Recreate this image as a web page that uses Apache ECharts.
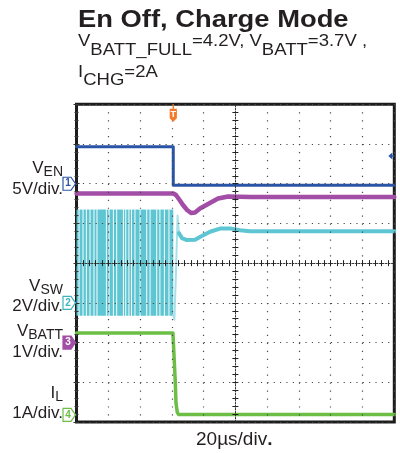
<!DOCTYPE html>
<html>
<head>
<meta charset="utf-8">
<script src="https://cdn.jsdelivr.net/npm/echarts@6/dist/echarts.min.js"></script>
<style>
  html, body { margin: 0; padding: 0; background: #fff; }
  #c { width: 400px; height: 453px; }
</style>
</head>
<body>
<div id="c"></div>
<script>
// ---- scope setup ----
const timeMaxUs = 200;          // 10 div x 20 us
const timeDivUs = 20;
// per-channel vertical scale (units/div) and ground position (div from centre)
const chScale  = [5, 2, 1, 1];
const chGround = [2, -1, -2, -3.82];
const chTag    = ['1', '2', '3', '4'];
const trigTimeUs = 60.9;
const trigLevelV = 3.5;         // CH1 trigger level

// ---- V_EN (V) ----
const enT = [0, 60.9, 60.9, 200];
const enV = [4.66, 4.66, -0.2, -0.2];

// ---- V_SW (V): switching burst band and the quiet gaps inside it (us) ----
const swHigh = 4.7, swLow = -0.65;
const swStart = 0, swStop = 60.9;
const swGaps = [1.6, 4.1, 6.2, 8.5, 11.0, 12.9, 18.8, 20.5, 23.2, 25.3, 29.5,
                31.0, 33.0, 34.6, 36.8, 40.0, 44.2, 46.3, 50.5, 52.5, 55.3, 58.2];
// last ring of the switch node after turn-off
const swRingT = [60.9, 61.6, 62.6, 63.6, 64.5];
const swRingV = [-0.6, -0.85, 1.5, 4.4, 3.5];
// switch node settling after turn-off
const swT = [64.5, 66.4, 69.5, 74.6, 77.7, 84.0, 90.3, 96.6, 102.9, 109.2, 200];
const swV = [3.51, 3.26, 3.16, 3.18, 3.32, 3.58, 3.74, 3.75, 3.66, 3.61, 3.61];

// ---- V_BATT (V) ----
const batT = [0, 61.0, 62.6, 65.1, 67.0, 69.6, 72.1, 74.6, 77.7, 82.8, 89.1, 95.4, 109.2, 200];
const batV = [3.754, 3.754, 3.716, 3.578, 3.464, 3.338, 3.263, 3.276, 3.376, 3.490, 3.628, 3.678, 3.666, 3.666];

// ---- I_L (A) ----
const ilT = [0, 60.7, 61.4, 62.2, 62.6, 63.4, 64.2, 200];
const ilA = [2.06, 2.06, 1.46, 0.80, 0.30, 0.07, 0.01, 0.01];

// ---- colours ----
const cBlue = '#2a55a6', cCyan = '#5ec5d3', cCyanLt = '#a9e0e8',
      cPurple = '#a24da6', cGreen = '#6cbe45', cOrange = '#f27b2d';
const chColor = [cBlue, '#3fb3bd', cPurple, cGreen];

const FONT = "'Liberation Sans', Arial, Helvetica, sans-serif";
const gridBox = { left: 76.5, top: 104.3, width: 317.8, height: 317.7 };

const zip = (t, v) => t.map((x, i) => [x, v[i]]);

// bursts between the quiet gaps
const swEdges = [swStart].concat(swGaps, [swStop]);
const swBursts = [];
for (let i = 0; i < swEdges.length - 1; i++) {
  const a = swEdges[i] + (i > 0 ? 0.3 : 0);
  const b = swEdges[i + 1] - (i + 1 < swEdges.length - 1 ? 0.3 : 0);
  swBursts.push([a, b]);
}

const dotX = { color: '#4a4a4a', width: 1.2, type: [1.2, 6.75] };
const dotY = { color: '#4a4a4a', width: 1.2, type: [1.2, 5.16] };

function frameX(position, extra) {
  return Object.assign({
    type: 'value', min: 0, max: timeMaxUs, interval: timeDivUs, position,
    axisLine: { show: false }, axisLabel: { show: false },
    axisTick: { show: true, inside: true, length: 3, lineStyle: { color: '#333', width: 1 } },
    minorTick: { show: true, splitNumber: 5, length: 2, lineStyle: { color: '#333', width: 1 } },
    splitLine: { show: false }, z: 10
  }, extra || {});
}
function frameY(position, extra) {
  return Object.assign({
    type: 'value', min: -4, max: 4, interval: 1, position,
    axisLine: { show: false }, axisLabel: { show: false },
    axisTick: { show: true, inside: true, length: 3, lineStyle: { color: '#333', width: 1 } },
    minorTick: { show: true, splitNumber: 5, length: 2, lineStyle: { color: '#333', width: 1 } },
    splitLine: { show: false }, z: 10
  }, extra || {});
}
const crossLine = { show: true, onZero: false, lineStyle: { color: '#333', width: 1, type: [1.5, 1.5] } };

const xAxes = [
  frameX('bottom', { splitLine: { show: true, lineStyle: dotX } }),
  frameX('top'),
  frameX('bottom', { offset: -gridBox.height / 2, axisLine: crossLine,
    axisTick: { show: true, inside: true, length: 3, lineStyle: { color: '#222' } },
    minorTick: { show: true, splitNumber: 5, length: 3, lineStyle: { color: '#222' } } }),
  frameX('bottom', { offset: -gridBox.height / 2,
    axisTick: { show: true, inside: false, length: 3, lineStyle: { color: '#222' } },
    minorTick: { show: true, splitNumber: 5, length: 3, lineStyle: { color: '#222' } } })
];
const yAxes = [
  frameY('left', { splitLine: { show: true, lineStyle: dotY } }),
  frameY('right'),
  frameY('left', { offset: -gridBox.width / 2, axisLine: crossLine,
    axisTick: { show: true, inside: true, length: 3, lineStyle: { color: '#222' } },
    minorTick: { show: true, splitNumber: 5, length: 3, lineStyle: { color: '#222' } } }),
  frameY('left', { offset: -gridBox.width / 2,
    axisTick: { show: true, inside: false, length: 3, lineStyle: { color: '#222' } },
    minorTick: { show: true, splitNumber: 5, length: 3, lineStyle: { color: '#222' } } })
];
// one hidden value axis per channel (index 4..7)
for (let i = 0; i < 4; i++) {
  yAxes.push({
    type: 'value', show: false,
    min: (-4 - chGround[i]) * chScale[i],
    max: (4 - chGround[i]) * chScale[i]
  });
}

function trace(name, data, axis, color, width) {
  return {
    name, type: 'line', data, xAxisIndex: 0, yAxisIndex: axis,
    showSymbol: false, symbol: 'none', animation: false, silent: true,
    lineStyle: { color, width, join: 'round', cap: 'round' }, z: 3
  };
}

const chart = echarts.init(document.getElementById('c'), null, { renderer: 'canvas' });

chart.setOption({
  animation: false,
  backgroundColor: '#fff',
  grid: Object.assign({ show: true, borderColor: '#1c1c1c', borderWidth: 3, backgroundColor: '#fff', containLabel: false }, gridBox),
  xAxis: xAxes,
  yAxis: yAxes,
  series: [
    {
      name: 'V_SW burst', type: 'custom', xAxisIndex: 0, yAxisIndex: 5,
      data: swBursts, encode: { x: [0, 1] }, silent: true, animation: false, z: 2,
      renderItem(params, api) {
        const p1 = api.coord([api.value(0), swHigh]);
        const p2 = api.coord([api.value(1), swLow]);
        return { type: 'rect',
          shape: { x: p1[0], y: p1[1], width: Math.max(p2[0] - p1[0], 0.5), height: p2[1] - p1[1] },
          style: { fill: cCyan } };
      }
    },
    trace('V_SW ring', zip(swRingT, swRingV), 5, cCyanLt, 2),
    trace('V_SW', zip(swT, swV), 5, cCyan, 4),
    trace('V_BATT', zip(batT, batV), 6, cPurple, 4.5),
    trace('I_L', zip(ilT, ilA), 7, cGreen, 3.5),
    trace('V_EN', zip(enT, enV), 4, cBlue, 3)
  ]
});

// ---- text + markers ----
const mctx = document.createElement('canvas').getContext('2d');
function tw(s, size, weight) {
  mctx.font = (weight || 'normal') + ' ' + size + 'px ' + FONT;
  return mctx.measureText(s).width;
}
// pieces: [text, size, dy, weight]; sx stretches the run horizontally
function textRun(pieces, x, yMid, align, sx) {
  sx = sx || 1;
  const total = pieces.reduce((s, p) => s + tw(p[0], p[1], p[3]), 0) * sx;
  let cx = align === 'right' ? x - total : x;
  const out = [];
  pieces.forEach(p => {
    out.push({
      type: 'text', x: cx, y: yMid + (p[2] || 0), scaleX: sx, silent: true, z: 20,
      style: { text: p[0], fontSize: p[1], fontFamily: FONT, fontWeight: p[3] || 'normal',
        fill: '#231f20', align: 'left', verticalAlign: 'middle',
        textAlign: 'left', textVerticalAlign: 'middle' }
    });
    cx += tw(p[0], p[1], p[3]) * sx;
  });
  return out;
}

const g = [];
// heading
g.push(...textRun([['En Off, Charge Mode', 24, 0, 'bold']], 78, 20, 'left', 1.14));
g.push(...textRun([
  ['V', 17, 0], ['BATT_FULL', 17, 9], ['=4.2V, V', 17, 0], ['BATT', 17, 9], ['=3.7V ,', 17, 0]
], 78, 41, 'left', 1.09));
g.push(...textRun([['I', 17, 0], ['CHG', 17, 8], ['=2A', 17, 0]], 78, 72, 'left', 1.09));

// channel labels
const labR = 63;
g.push(...textRun([['V', 17, 0], ['EN', 14, 4]], labR, 168, 'right'));
g.push(...textRun([['5V/div.', 17, 0]], labR, 189, 'right'));
g.push(...textRun([['V', 17, 0], ['SW', 14, 4]], labR, 286, 'right'));
g.push(...textRun([['2V/div.', 17, 0]], labR, 306, 'right'));
g.push(...textRun([['V', 17, 0], ['BATT', 14, 4]], labR, 331, 'right'));
g.push(...textRun([['1V/div.', 17, 0]], labR, 352, 'right'));
g.push(...textRun([['I', 17, 0], ['L', 14, 4]], labR, 393, 'right'));
g.push(...textRun([['1A/div.', 17, 0]], labR, 413, 'right'));

// time base
g.push(...textRun([['20µs/div', 19, 0], ['.', 19, 0, 'bold']], 196, 440, 'left'));

// ground markers for each channel
for (let i = 0; i < 4; i++) {
  const y = chart.convertToPixel({ xAxisIndex: 0, yAxisIndex: 4 + i }, [0, 0])[1];
  const x0 = 63, x1 = 71, x2 = 75.5, h = 6.5;
  const filled = i === 2;
  g.push({
    type: 'polygon', silent: true, z: 20,
    shape: { points: [[x0, y - h], [x1, y - h], [x2, y], [x1, y + h], [x0, y + h]] },
    style: { fill: filled ? chColor[i] : '#fff', stroke: chColor[i], lineWidth: 1.2 }
  });
  g.push({
    type: 'text', x: x0 + 5, y: y, silent: true, z: 21,
    style: { text: chTag[i], fontSize: 10, fontFamily: FONT, fontWeight: 'bold',
      fill: filled ? '#fff' : chColor[i], align: 'center', verticalAlign: 'middle',
      textAlign: 'center', textVerticalAlign: 'middle' }
  });
}

// trigger position flag
const tp = chart.convertToPixel({ xAxisIndex: 0, yAxisIndex: 0 }, [trigTimeUs, 4]);
g.push({ type: 'line', silent: true, z: 20,
  shape: { x1: tp[0], y1: tp[1], x2: tp[0], y2: tp[1] + 5 },
  style: { stroke: cOrange, lineWidth: 1.5 } });
g.push({ type: 'polygon', silent: true, z: 20,
  shape: { points: [[tp[0] - 3.6, tp[1] + 4.5], [tp[0] + 3.6, tp[1] + 4.5], [tp[0] + 3.6, tp[1] + 14],
                    [tp[0], tp[1] + 17.5], [tp[0] - 3.6, tp[1] + 14]] },
  style: { fill: cOrange } });
g.push({ type: 'text', x: tp[0], y: tp[1] + 10.5, silent: true, z: 21,
  style: { text: 'T', fontSize: 9, fontFamily: FONT, fontWeight: 'bold', fill: '#fff',
    align: 'center', verticalAlign: 'middle', textAlign: 'center', textVerticalAlign: 'middle' } });

// trigger level arrow (CH1)
const tl = chart.convertToPixel({ xAxisIndex: 0, yAxisIndex: 4 }, [timeMaxUs, trigLevelV]);
g.push({ type: 'polygon', silent: true, z: 20,
  shape: { points: [[tl[0] - 6, tl[1]], [tl[0] - 2, tl[1] - 3.5], [tl[0] - 2, tl[1] + 3.5]] },
  style: { fill: cBlue } });
g.push({ type: 'line', silent: true, z: 20,
  shape: { x1: tl[0] - 3, y1: tl[1], x2: tl[0], y2: tl[1] },
  style: { stroke: cBlue, lineWidth: 1.5 } });

chart.setOption({ graphic: { elements: g } });
</script>
</body>
</html>
